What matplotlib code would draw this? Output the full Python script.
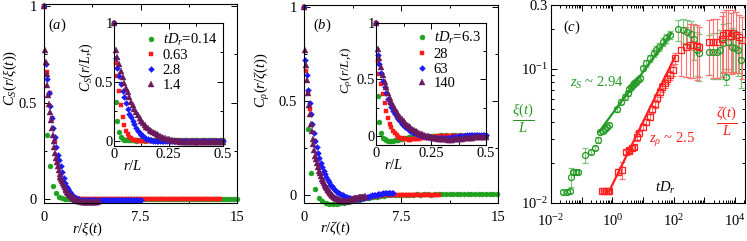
import matplotlib
matplotlib.use('Agg')
import matplotlib.pyplot as plt
import matplotlib.ticker as ticker
import numpy as np

plt.rcParams['font.family'] = ['Liberation Serif', 'DejaVu Serif']
plt.rcParams['mathtext.fontset'] = 'custom'
plt.rcParams['mathtext.rm'] = 'Liberation Serif'
plt.rcParams['mathtext.it'] = 'Liberation Serif:italic'
plt.rcParams['mathtext.bf'] = 'Liberation Serif:bold'
plt.rcParams['font.size'] = 10.5
plt.rcParams['axes.linewidth'] = 0.8

W, H = 747, 241

# lattice distances r = 0..L/2 (system size L)
L = 128
r_lat = np.arange(65)

# ---- panel (a): C_S, four times
times_a = ['0.14', '0.63', '2.8', '1.4']
L_over_xi = [30, 27.4, 15, 8.6]
cs_014 = [1.0, 0.33, 0.17, 0.07, 0.03, 0.012, 0.005, 0.003, 0.002, 0.002,
          0.002, 0.003, 0.002, 0.001, 0.002, 0.003, 0.002, 0.002, 0.001, 0.002,
          0.003, 0.002, 0.002, 0.003, 0.002, 0.001, 0.002, 0.003, 0.002, 0.002,
          0.002, 0.003, 0.002, 0.001, 0.002, 0.002, 0.003, 0.002, 0.002, 0.001,
          0.002, 0.003, 0.002, 0.002, 0.001, 0.002, 0.003, 0.002, 0.002, 0.002,
          0.001, 0.002, 0.003, 0.002, 0.002, 0.001, 0.002, 0.003, 0.002, 0.002,
          0.002, 0.001, 0.002, 0.003, 0.002]
cs_063 = [1.0, 0.66, 0.55, 0.42, 0.30, 0.20, 0.13, 0.085, 0.055, 0.035,
          0.02, 0.01, 0.005, 0.002, 0.0, -0.001, 0.0, 0.001, 0.0, -0.001,
          0.0, 0.001, 0.0, 0.0, -0.001, 0.0, 0.001, 0.0, 0.0, -0.001,
          0.0, 0.0, 0.001, 0.0, -0.001, 0.0, 0.0, 0.001, 0.0, 0.0,
          -0.001, 0.0, 0.001, 0.0, 0.0, -0.001, 0.0, 0.0, 0.001, 0.0,
          0.0, -0.001, 0.0, 0.001, 0.0, 0.0, -0.001, 0.0, 0.0, 0.001,
          0.0, 0.0, -0.001, 0.0, 0.0]
cs_28 = [1.0, 0.70, 0.62, 0.55, 0.48, 0.42, 0.37, 0.32, 0.27, 0.23,
         0.20, 0.17, 0.14, 0.11, 0.085, 0.065, 0.05, 0.037, 0.026, 0.018,
         0.012, 0.007, 0.003, 0.0, -0.002, -0.003, -0.004, -0.004, -0.005, -0.005,
         -0.005, -0.006, -0.005, -0.006, -0.005, -0.005, -0.006, -0.005, -0.004, -0.005,
         -0.005, -0.004, -0.005, -0.004, -0.004, -0.005, -0.004, -0.003, -0.004, -0.004,
         -0.003, -0.004, -0.003, -0.003, -0.004, -0.003, -0.002, -0.003, -0.003, -0.002,
         -0.002, -0.003, -0.002, -0.002, -0.002]
cs_14 = [1.0, 0.77, 0.71, 0.65, 0.59, 0.54, 0.49, 0.45, 0.41, 0.37,
         0.33, 0.30, 0.27, 0.24, 0.215, 0.19, 0.17, 0.15, 0.13, 0.117,
         0.105, 0.093, 0.082, 0.072, 0.063, 0.054, 0.046, 0.039, 0.032, 0.026,
         0.02, 0.015, 0.011, 0.007, 0.004, 0.001, -0.002, -0.004, -0.006, -0.008,
         -0.009, -0.01, -0.011, -0.012, -0.013, -0.013, -0.014, -0.014, -0.014, -0.015,
         -0.015, -0.014, -0.015, -0.015, -0.014, -0.015, -0.014, -0.014, -0.013, -0.014,
         -0.013, -0.013, -0.012, -0.012, -0.012]

# ---- panel (b): C_rho, four times
times_b = ['6.3', '28', '63', '140']
L_over_zeta = [36, 20.8, 13.8, 9.4]
crho_6p3 = [1.0, 0.35, 0.12, 0.03, -0.015, -0.03, -0.04, -0.045, -0.048, -0.047,
            -0.044, -0.04, -0.036, -0.032, -0.028, -0.024, -0.02, -0.017, -0.014, -0.011,
            -0.008, -0.006, -0.004, -0.002, -0.001, 0.0, 0.001, 0.002, 0.002, 0.003,
            0.003, 0.004, 0.003, 0.004, 0.004, 0.003, 0.004, 0.004, 0.005, 0.004,
            0.004, 0.005, 0.004, 0.004, 0.005, 0.004, 0.005, 0.004, 0.004, 0.005,
            0.004, 0.004, 0.005, 0.004, 0.004, 0.003, 0.004, 0.004, 0.003, 0.004,
            0.003, 0.003, 0.004, 0.003, 0.003]
crho_28 = [1.0, 0.66, 0.55, 0.46, 0.37, 0.29, 0.22, 0.16, 0.11, 0.075,
           0.045, 0.022, 0.005, -0.007, -0.016, -0.022, -0.026, -0.029, -0.031, -0.032,
           -0.032, -0.031, -0.03, -0.028, -0.026, -0.024, -0.022, -0.02, -0.018, -0.016,
           -0.014, -0.012, -0.01, -0.008, -0.006, -0.005, -0.003, -0.002, -0.001, 0.0,
           0.001, 0.001, 0.002, 0.002, 0.003, 0.002, 0.003, 0.003, 0.002, 0.003,
           0.003, 0.002, 0.003, 0.003, 0.002, 0.003, 0.002, 0.003, 0.002, 0.002,
           0.003, 0.002, 0.002, 0.003, 0.002]
crho_63 = [1.0, 0.72, 0.64, 0.56, 0.49, 0.43, 0.38, 0.33, 0.29, 0.255,
           0.225, 0.195, 0.17, 0.15, 0.13, 0.11, 0.095, 0.08, 0.067, 0.056,
           0.046, 0.037, 0.029, 0.022, 0.016, 0.011, 0.006, 0.002, -0.002, -0.006,
           -0.009, -0.012, -0.015, -0.017, -0.019, -0.02, -0.021, -0.021, -0.021, -0.02,
           -0.019, -0.018, -0.016, -0.014, -0.012, -0.01, -0.008, -0.006, -0.004, -0.002,
           0.0, 0.002, 0.003, 0.005, 0.006, 0.007, 0.008, 0.009, 0.01, 0.01,
           0.01, 0.011, 0.01, 0.011, 0.01]
crho_140 = [1.0, 0.77, 0.69, 0.61, 0.54, 0.48, 0.43, 0.38, 0.34, 0.30,
            0.27, 0.24, 0.21, 0.19, 0.17, 0.15, 0.13, 0.115, 0.10, 0.087,
            0.075, 0.064, 0.054, 0.045, 0.036, 0.028, 0.021, 0.014, 0.008, 0.003,
            -0.002, -0.006, -0.01, -0.014, -0.017, -0.02, -0.023, -0.025, -0.027, -0.029,
            -0.03, -0.031, -0.032, -0.032, -0.032, -0.031, -0.03, -0.029, -0.028, -0.026,
            -0.024, -0.022, -0.02, -0.018, -0.017, -0.015, -0.014, -0.013, -0.012, -0.011,
            -0.01, -0.009, -0.008, -0.008, -0.007]

# ---- panel (c): length scales vs t D_r
xi_t = [0.0247, 0.0335, 0.042, 0.0453, 0.0526, 0.066, 0.0768, 0.130, 0.205, 0.277,
        0.347, 0.404, 0.507, 0.589, 0.685, 0.80, 1.43, 1.93, 2.6, 3.17,
        3.6, 4.1, 4.6, 5.25, 5.97, 6.76, 7.7, 9.8, 12.6, 17.2,
        22, 27, 33, 45, 57, 74, 138, 200, 274, 352,
        455, 553, 680, 1406, 1946, 2512, 3220, 3950, 4950, 6030,
        7770, 10000, 12830, 15700]
xi_L = [0.0121, 0.0121, 0.0123, 0.0156, 0.0170, 0.0170, 0.0170, 0.0228, 0.0242, 0.0257,
        0.0295, 0.0339, 0.0344, 0.0356, 0.0369, 0.0382, 0.050, 0.057, 0.062, 0.066,
        0.0708, 0.073, 0.0759, 0.078, 0.080, 0.083, 0.085, 0.101, 0.110, 0.120,
        0.131, 0.139, 0.147, 0.160, 0.169, 0.179, 0.198, 0.195, 0.190, 0.183,
        0.167, 0.139, 0.132, 0.1346, 0.1346, 0.1346, 0.139, 0.155, 0.0877, 0.160,
        0.147, 0.1426, 0.139, 0.117]
xi_err = [0.0004, 0.0004, 0.0004, 0.0025, 0.0006, 0.0006, 0.0006, 0.003, 0.0008, 0.0008,
          0.0015, 0.001, 0.001, 0.001, 0.001, 0.001, 0.002, 0.0025, 0.003, 0.003,
          0.003, 0.003, 0.003, 0.003, 0.0035, 0.0035, 0.004, 0.005, 0.006, 0.007,
          0.008, 0.009, 0.01, 0.011, 0.012, 0.013, 0.035, 0.04, 0.04, 0.045,
          0.05, 0.05, 0.05, 0.045, 0.05, 0.05, 0.055, 0.06, 0.012, 0.06,
          0.055, 0.05, 0.05, 0.045]
zeta_t = [0.46, 0.54, 0.63, 0.72, 0.80, 1.49, 2.08, 2.81, 3.43, 3.6,
          4.4, 5.25, 6.3, 7.3, 9.8, 12.6, 16.3, 20, 23.8, 28.4,
          34.6, 42.5, 50.7, 60.3, 74, 95, 107, 177, 260, 333,
          427, 553, 680, 1406, 1946, 2512, 3630, 4140, 5070, 6030,
          7240, 8800, 10720, 13800, 16600]
zeta_L = [0.0122, 0.0122, 0.0122, 0.0122, 0.0122, 0.0171, 0.0176, 0.0242, 0.0245, 0.0249,
          0.0256, 0.0263, 0.0313, 0.0331, 0.0371, 0.0405, 0.044, 0.050, 0.055, 0.061,
          0.067, 0.073, 0.078, 0.084, 0.090, 0.098, 0.120, 0.139, 0.147, 0.151,
          0.151, 0.148, 0.147, 0.160, 0.160, 0.160, 0.167, 0.179, 0.185, 0.185,
          0.176, 0.185, 0.179, 0.174, 0.164]
zeta_err = [0.0003, 0.0003, 0.0003, 0.0003, 0.0003, 0.0008, 0.0025, 0.0008, 0.0008, 0.0008,
            0.0009, 0.0009, 0.0025, 0.0015, 0.002, 0.002, 0.0025, 0.003, 0.0035, 0.004,
            0.005, 0.0055, 0.006, 0.0065, 0.007, 0.009, 0.012, 0.05, 0.06, 0.065,
            0.065, 0.065, 0.06, 0.07, 0.075, 0.075, 0.08, 0.085, 0.09, 0.09,
            0.085, 0.09, 0.085, 0.08, 0.08]
# straight-line fits drawn in the figure (end points)
xi_fit_t = [0.37, 83]
xi_fit_L = [0.034, 0.184]
zeta_fit_t = [0.78, 107]
zeta_fit_L = [0.0122, 0.122]

GREEN = '#1fa01f'
RED = '#ff1a1a'
BLUE = '#1a1aff'
PURPLE = '#6a1a5c'
STYLES = [(GREEN, 'o', 3.6), (RED, 's', 3.3), (BLUE, 'D', 3.0), (PURPLE, '^', 4.2)]
C_GREEN = '#249a24'
C_GREEN_ERR = '#7cc47c'
C_RED = '#ff2020'
C_RED_ERR = '#ff7070'


def px_axes(fig, left, top, right, bottom):
    return fig.add_axes([left / W, 1 - bottom / H, (right - left) / W, (bottom - top) / H])


def fig_text(fig, x, y, s, **kw):
    kw.setdefault('ha', 'center')
    kw.setdefault('va', 'center')
    fig.text(x / W, 1 - y / H, s, **kw)


def style_lin(ax, xt, xminor, yt, yminor, xpad, ypad):
    ax.set_xticks(xt)
    ax.set_xticks(xminor, minor=True)
    ax.set_yticks(yt)
    ax.set_yticks(yminor, minor=True)
    ax.set_xticklabels([('%g' % v) for v in xt])
    ax.set_yticklabels([('%g' % v) for v in yt])
    ax.tick_params(which='both', direction='in', top=True, right=True, width=0.7)
    ax.tick_params(which='major', length=4)
    ax.tick_params(which='minor', length=2.5)
    ax.tick_params(axis='x', pad=xpad)
    ax.tick_params(axis='y', pad=ypad)


def correlation_panel(ax, ins, curves, scale, labels):
    r_L = r_lat / L
    for c, s, lab, (col, mk, ms) in zip(curves, scale, labels, STYLES):
        c = np.array(c)
        r_s = r_L * s
        keep = r_s <= 15.01
        ax.plot(r_s[keep], c[keep], ls='none', marker=mk, ms=ms, color=col,
                mec=col, mew=0.3, clip_on=False)
        ins.plot(r_L, c, ls='none', marker=mk, ms=ms, color=col, mec=col,
                 mew=0.3, clip_on=False, label=lab)
    ax.set_xlim(0, 15)
    ins.set_xlim(0, 0.5)
    style_lin(ax, [0, 7.5, 15], [3.75, 11.25], [0, 0.5, 1], [0.25, 0.75], 6, 5)
    style_lin(ins, [0, 0.25, 0.5], [0.125, 0.375], [0, 0.5, 1], [0.25, 0.75], 1.5, 1.0)


fig = plt.figure(figsize=(W / 100, H / 100), dpi=100)

# (a)
ax_a = px_axes(fig, 44, 4, 237, 203)
in_a = px_axes(fig, 114, 23, 223, 146)
correlation_panel(ax_a, in_a, [cs_014, cs_063, cs_28, cs_14], L_over_xi,
                  [r'$tD_r$=' + times_a[0]] + times_a[1:])
ax_a.set_ylim(-0.02, 1.01)
in_a.set_ylim(-0.045, 1.0)
in_a.legend(loc='upper left', bbox_to_anchor=(0.28, 0.93), frameon=False,
            handlelength=0.9, handletextpad=0.35, labelspacing=0.1,
            borderpad=0.0, borderaxespad=0.0)

# (b)
ax_b = px_axes(fig, 304, 5, 498, 203)
in_b = px_axes(fig, 376, 23, 486, 145)
correlation_panel(ax_b, in_b, [crho_6p3, crho_28, crho_63, crho_140], L_over_zeta,
                  [r'$tD_r$=' + times_b[0]] + times_b[1:])
ax_b.set_ylim(-0.042, 1.01)
in_b.set_ylim(-0.08, 1.0)
in_b.legend(loc='upper left', bbox_to_anchor=(0.36, 0.94), frameon=False,
            handlelength=0.9, handletextpad=0.35, labelspacing=0.1,
            borderpad=0.0, borderaxespad=0.0)

# (c)
ax_c = px_axes(fig, 551, 5, 745, 203)
ax_c.set_xscale('log')
ax_c.set_yscale('log')
ax_c.errorbar(xi_t, xi_L, yerr=xi_err, fmt='o', ms=4.3, mfc='none', mec=C_GREEN,
              mew=0.9, ecolor=C_GREEN_ERR, elinewidth=0.8, capsize=2, capthick=0.8,
              zorder=3)
ax_c.errorbar(zeta_t, zeta_L, yerr=zeta_err, fmt='s', ms=4.0, mfc='none', mec=C_RED,
              mew=0.9, ecolor=C_RED_ERR, elinewidth=0.8, capsize=2, capthick=0.8,
              zorder=3)
ax_c.plot(xi_fit_t, xi_fit_L, color=C_GREEN, lw=1.6, zorder=4)
ax_c.plot(zeta_fit_t, zeta_fit_L, color=C_RED, lw=1.6, zorder=4)
ax_c.set_xlim(0.01, 2.1e4)
ax_c.set_ylim(0.01, 0.3)
decades = [10.0 ** e for e in range(-2, 5)]
ax_c.set_xticks(decades)
ax_c.set_xticklabels([(r'$10^{%d}$' % e) if e % 2 == 0 else '' for e in range(-2, 5)])
ax_c.xaxis.set_minor_locator(ticker.LogLocator(base=10.0, subs=np.arange(2, 10), numticks=100))
ax_c.set_yticks([0.01, 0.1, 0.3])
ax_c.set_yticklabels([r'$10^{-2}$', r'$10^{-1}$', '0.3'])
ax_c.yaxis.set_minor_locator(ticker.LogLocator(base=10.0, subs=np.arange(2, 10), numticks=100))
ax_c.xaxis.set_minor_formatter(ticker.NullFormatter())
ax_c.yaxis.set_minor_formatter(ticker.NullFormatter())
ax_c.tick_params(which='both', direction='in', top=True, right=True, width=0.7)
ax_c.tick_params(which='major', length=4.5)
ax_c.tick_params(which='minor', length=2.5)
ax_c.tick_params(axis='x', pad=7)
ax_c.tick_params(axis='y', pad=2)

# labels
fig_text(fig, 10, 78, r'$C_S(r/\xi(t))$', rotation=90)
fig_text(fig, 88, 229, r'$r/\xi(t)$')
fig_text(fig, 86, 67, r'$C_S(r/L{,}t)$', rotation=90, fontsize=10)
fig_text(fig, 133, 166, r'$r/L$')
fig_text(fig, 57, 25, r'$(a)$')
fig_text(fig, 263, 80, r'$C_\rho(r/\zeta(t))$', rotation=90)
fig_text(fig, 335, 228, r'$r/\zeta(t)$')
fig_text(fig, 347, 70, r'$C_\rho(r/L{,}t)$', rotation=90, fontsize=9.5)
fig_text(fig, 394, 165, r'$r/L$')
fig_text(fig, 322, 25, r'$(b)$')
fig_text(fig, 572, 27, r'$(c)$')
fig_text(fig, 523, 118, r'$\dfrac{\xi(t)}{L}$', color=C_GREEN)
fig_text(fig, 727, 121, r'$\dfrac{\zeta(t)}{L}$', color=C_RED)
fig_text(fig, 597, 83, r'$z_S$ ~ 2.94', color=C_GREEN)
fig_text(fig, 672, 140, r'$z_\rho$ ~ 2.5', color=C_RED)
fig_text(fig, 665, 188, r'$tD_r$')

fig.savefig('out.png', dpi=100)
